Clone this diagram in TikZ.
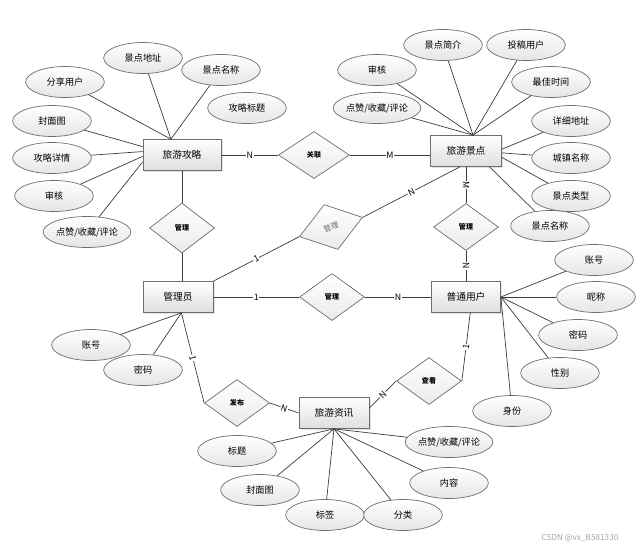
\documentclass[tikz,border=0pt]{standalone}
\usepackage{fontspec}
\setmainfont{Noto Sans CJK SC}
\usetikzlibrary{shapes.geometric, shadows}
\definecolor{cline}{HTML}{3C3C3C}
\definecolor{cedge}{HTML}{6E6E6E}
\definecolor{cgrey}{HTML}{6A6A6A}
\tikzset{
  every picture/.style={line width=0.6pt},
  entity/.style={draw=cedge, top color=white, bottom color=black!13, minimum width=#1, minimum height=0.93cm,
    inner sep=2pt, font=\fontsize{8.3}{10}\selectfont,
    drop shadow={opacity=0.22, shadow xshift=0.05cm, shadow yshift=-0.05cm}},
  entity/.default=2.1cm,
  attr/.style={ellipse, draw=cedge, top color=white, bottom color=black!10, minimum width=2.36cm, minimum height=0.93cm,
    inner sep=0pt, font=\fontsize{7.8}{9}\selectfont},
  rel/.style={diamond, draw=cedge, top color=white, bottom color=black!8, minimum width=1.95cm, minimum height=1.41cm,
    inner sep=0pt, font=\fontsize{6}{7}\selectfont\bfseries},
  link/.style={draw=cline},
  card/.style={fill=white, inner sep=0.6pt, font=\fontsize{7.5}{8}\selectfont},
  wmark/.style={text=black!35, font=\fontsize{7}{8}\selectfont},
}

\begin{document}
\begin{tikzpicture}[x=0.03cm, y=-0.03cm]
  \useasboundingbox (0,0) rectangle (643,550);
  % ---- entities ----
  \node[entity=2.34cm] (gl) at (182,155) {旅游攻略};
  \node[entity=2.13cm] (jd) at (466,151) {旅游景点};
  \node[entity] (gly) at (178,297) {管理员};
  \node[entity=2.07cm] (pt) at (466,297) {普通用户};
  \node[entity] (zx) at (334,413) {旅游资讯};
  % ---- relationships ----
  \node[rel, minimum width=2.13cm] (gx) at (314,155) {关联};
  \node[rel, minimum height=1.5cm] (glm) at (182,228) {管理};
  \node[rel] (gr) at (466,227) {管理};
  \node[rel] (gm) at (332,297) {管理};
  \node[rel, rotate=17, minimum width=1.98cm, text=cgrey, font=\fontsize{6.5}{7}\selectfont] (gs) at (331,227) {管理};
  \node[rel] (fb) at (237,403) {发布};
  \node[rel] (ck) at (429,381) {查看};
  % ---- attributes: 旅游攻略 ----
  \node[attr] (gl1) at (143,58) {景点地址};
  \node[attr] (gl2) at (221,70) {景点名称};
  \node[attr] (gl3) at (65,82) {分享用户};
  \node[attr] (gl4) at (247,108) {攻略标题};
  \node[attr] (gl5) at (52,121) {封面图};
  \node[attr] (gl6) at (52,158) {攻略详情};
  \node[attr] (gl7) at (54,196) {审核};
  \node[attr] (gl8) at (87,232) {点赞/收藏/评论};
  \foreach \a in {gl1,gl2,gl3} \draw[link] (\a) -- (gl.125);
  \draw[link] (gl5) -- (gl.168); \draw[link] (gl6) -- (gl.175);
  \draw[link] (gl7) -- (gl.182); \draw[link] (gl8) -- (gl.190);
  % ---- attributes: 旅游景点 ----
  \node[attr] (jd1) at (443,45) {景点简介};
  \node[attr] (jd2) at (526,45) {投稿用户};
  \node[attr] (jd3) at (377,70) {审核};
  \node[attr] (jd4) at (551,82) {最佳时间};
  \node[attr] (jd5) at (377,108) {点赞/收藏/评论};
  \node[attr] (jd6) at (571,121) {详细地址};
  \node[attr] (jd7) at (571,158) {城镇名称};
  \node[attr] (jd8) at (571,196) {景点类型};
  \node[attr] (jd9) at (550,226) {景点名称};
  \foreach \a in {jd1,jd2,jd3,jd4,jd5} \draw[link] (\a) -- (jd.66);
  \draw[link] (jd6) -- (jd.3); \draw[link] (jd7) -- (jd.357);
  \draw[link] (jd8) -- (jd.350); \draw[link] (jd9) -- (jd.326);
  % ---- attributes: 管理员, 普通用户 ----
  \node[attr] (gly1) at (91,345) {账号};
  \node[attr] (gly2) at (143,370) {密码};
  \foreach \a in {gly1,gly2} \draw[link] (\a) -- (gly.282);
  \node[attr] (pt1) at (594,260) {账号};
  \node[attr] (pt2) at (596,297) {昵称};
  \node[attr] (pt3) at (578,335) {密码};
  \node[attr] (pt4) at (560,373) {性别};
  \node[attr] (pt5) at (512,411) {身份};
  \foreach \a in {pt1,pt2,pt3,pt4,pt5} \draw[link] (\a) -- (pt.east);
  % ---- attributes: 旅游资讯 ----
  \node[attr] (zx1) at (237,451) {标题};
  \node[attr] (zx2) at (260,490) {封面图};
  \node[attr] (zx3) at (325,515) {标签};
  \node[attr] (zx4) at (403,515) {分类};
  \node[attr] (zx5) at (449,442) {点赞/收藏/评论};
  \node[attr] (zx6) at (449,483) {内容};
  \foreach \a in {zx1,zx2,zx3,zx4,zx5,zx6} \draw[link] (\a) -- (zx.south);
  % ---- relationship lines ----
  \draw[link] (gl) -- node[card] {N} (gx);
  \draw[link] (gx) -- node[card] {M} (gx -| jd.west);
  \draw[link] (gl) -- (glm);
  \draw[link] (glm.south) -- (glm.south |- gly.north);
  \draw[link] (gly.north east) -- node[card, sloped] {1} (gs.west);
  \draw[link] (gs.east) -- node[card, sloped] {N} (jd.249);
  \draw[link] (jd) -- node[card, sloped] {M} (gr);
  \draw[link] (gr) -- node[card, sloped] {N} (pt);
  \draw[link] (gly) -- node[card] {1} (gm);
  \draw[link] (gm) -- node[card] {N} (pt);
  \draw[link] (gly.282) -- node[card, sloped] {1} (fb.west);
  \draw[link] (fb.east) -- node[card, sloped] {N} (zx.west);
  \draw[link] (pt.285) -- node[card, sloped] {1} (ck.east);
  \draw[link] (ck.west) -- node[card, sloped] {N} (zx.8);
  \node[wmark] (wm) at (580,538) {CSDN @vx\_B581330};
\end{tikzpicture}
\end{document}
